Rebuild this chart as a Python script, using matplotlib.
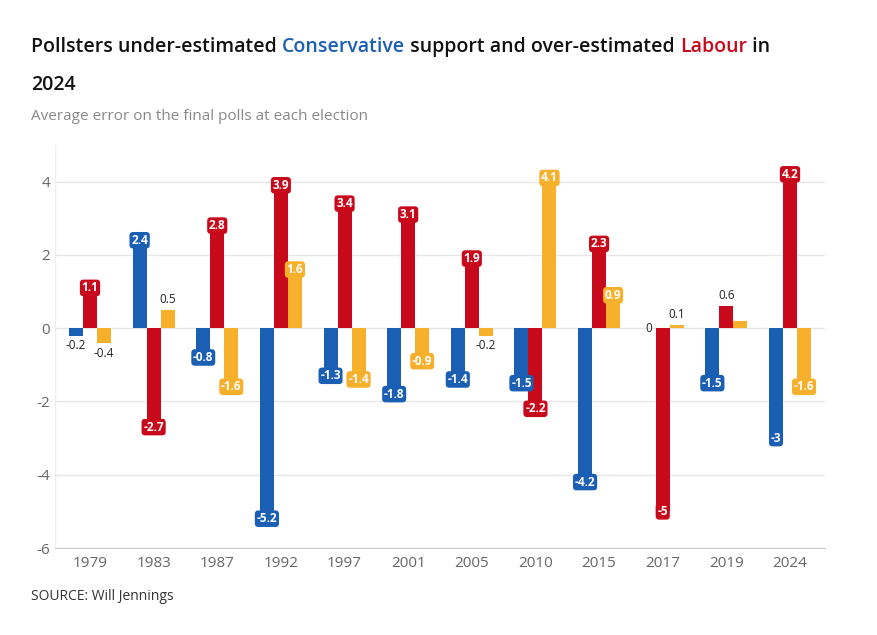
import matplotlib
matplotlib.use("Agg")
import matplotlib.pyplot as plt
import numpy as np

plt.rcParams['font.family'] = ['Open Sans', 'DejaVu Sans']

years = ["1979", "1983", "1987", "1992", "1997", "2001", "2005", "2010", "2015", "2017", "2019", "2024"]
con = [-0.2, 2.4, -0.8, -5.2, -1.3, -1.8, -1.4, -1.5, -4.2, 0, -1.5, -3]
lab = [1.1, -2.7, 2.8, 3.9, 3.4, 3.1, 1.9, -2.2, 2.3, -5, 0.6, 4.2]
lib = [-0.4, 0.5, -1.6, 1.6, -1.4, -0.9, -0.2, 4.1, 0.9, 0.1, 0.2, -1.6]
lib_labelled = [True] * 10 + [False, True]

BLUE = "#1b5fb5"
RED = "#c8091c"
YELLOW = "#f6b02b"

fig = plt.figure(figsize=(8.78, 6.35), dpi=100)
ax = fig.add_axes([55 / 878, 1 - 548 / 635, 770 / 878, 403 / 635])

x = np.arange(len(years))
w = 0.22
series = [(con, BLUE, -w, [True] * 12), (lab, RED, 0, [True] * 12), (lib, YELLOW, w, lib_labelled)]
for vals, col, off, show in series:
    ax.bar(x + off, vals, w, color=col, zorder=2)
    for xi, v, s in zip(x, vals, show):
        if not s:
            continue
        txt = f"{v:g}"
        if abs(v) >= 0.7:
            ax.text(xi + off, v, txt, ha="center", va="center", color="white",
                    fontsize=8.5, fontweight="bold", zorder=4,
                    bbox=dict(boxstyle="round,pad=0.15,rounding_size=0.3", fc=col, ec="none"))
        else:
            dy = 0.28 if v >= 0 else -0.28
            if v == 0:
                dy = 0.0
            ax.text(xi + off, v + dy, txt, ha="center", va="center", color="#222222",
                    fontsize=8.5, zorder=4)

ax.set_xlim(-0.55, len(years) - 0.45)
ax.set_ylim(-6, 5)
ax.set_yticks([-6, -4, -2, 0, 2, 4])
ax.set_yticklabels(["-6", "-4", "-2", "0", "2", "4"])
ax.set_xticks(x)
ax.set_xticklabels(years)
ax.tick_params(axis="both", length=0, labelsize=11, labelcolor="#666666")
ax.tick_params(axis="x", pad=6)
ax.grid(axis="y", color="#e6e6e6", lw=1, zorder=0)
for sp in ["top", "right", "left"]:
    ax.spines[sp].set_visible(False)
ax.spines["bottom"].set_color("#cccccc")
ax.axvline(-0.55, color="#eeeeee", lw=1, zorder=0)

# title with coloured words
fig.canvas.draw()
r = fig.canvas.get_renderer()
parts = [("Pollsters under-estimated ", "#111111"), ("Conservative", BLUE),
         (" support and over-estimated ", "#111111"), ("Labour", RED), (" in", "#111111")]
xpos = 31 / 878
for s, c in parts:
    t = fig.text(xpos, 1 - 47 / 635, s, color=c, fontsize=14, fontweight="semibold", va="center")
    bb = t.get_window_extent(renderer=r)
    xpos += bb.width / 878
fig.text(31 / 878, 1 - 85 / 635, "2024", color="#111111", fontsize=14, fontweight="semibold", va="center")
fig.text(31 / 878, 1 - 117 / 635, "Average error on the final polls at each election",
         color="#888888", fontsize=11, va="center")
fig.text(31 / 878, 1 - 596 / 635, "SOURCE: Will Jennings", color="#333333", fontsize=10, va="center")

fig.savefig("out.png", dpi=100)
